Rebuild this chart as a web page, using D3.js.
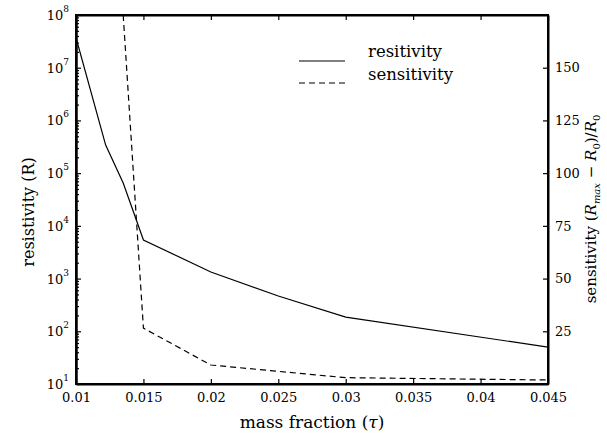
<!DOCTYPE html>
<html>
<head>
<meta charset="utf-8">
<script src="https://cdn.jsdelivr.net/npm/d3@7"></script>
<style>
  body { margin: 0; background: #fff; }
  svg text { font-family: "DejaVu Serif", serif !important; fill: #000; }
</style>
</head>
<body>
<script>
// data
let massFraction = [0.01, 0.0122, 0.0135, 0.015, 0.02, 0.025, 0.03, 0.045];
let resistivity = [3.7e7, 3.4e5, 6.5e4, 5400, 1330, 468, 186, 50];
let sensFraction = [0.0135, 0.015, 0.02, 0.025, 0.03, 0.045];
let sensitivity = [175, 26.5, 9, 6, 3, 1.9];

let xTicks = [0.01, 0.015, 0.02, 0.025, 0.03, 0.035, 0.04, 0.045];
let xTickLabels = ["0.01", "0.015", "0.02", "0.025", "0.03", "0.035", "0.04", "0.045"];
let logExponents = [1, 2, 3, 4, 5, 6, 7, 8];
let rightTicks = [25, 50, 75, 100, 125, 150];

//set up size and margin
let width = 607, height = 436;
let margin = { top: 15, right: 59, bottom: 52, left: 76 };
let plotW = width - margin.left - margin.right;
let plotH = height - margin.top - margin.bottom;

const svg = d3.select("body").append("svg")
  .attr("width", width)
  .attr("height", height);

const g = svg.append("g")
  .attr("transform", "translate(" + margin.left + "," + margin.top + ")");

//scales
let xScale = d3.scaleLinear().domain([0.01, 0.045]).range([0, plotW]);
let yLeft = d3.scaleLog().domain([10, 1e8]).range([plotH, 0]);
let yRight = d3.scaleLinear().domain([0, 175]).range([plotH, 0]);

//clip
svg.append("defs").append("clipPath").attr("id", "clip")
  .append("rect").attr("width", plotW).attr("height", plotH);

//axes
let xAxis = d3.axisBottom(xScale).tickValues(xTicks).tickSize(-5).tickSizeOuter(0)
  .tickPadding(9).tickFormat((d, i) => xTickLabels[i]);
g.append("g").attr("transform", "translate(0," + plotH + ")").call(xAxis);

let xTop = d3.axisTop(xScale).tickValues(xTicks).tickSize(-5).tickSizeOuter(0).tickFormat("");
g.append("g").call(xTop);

let majors = logExponents.map(e => Math.pow(10, e));
let yAxis = d3.axisLeft(yLeft).tickValues(majors).tickSize(-5).tickSizeOuter(0).tickFormat("");
g.append("g").call(yAxis);

let minors = [];
logExponents.slice(0, -1).forEach(e => {
  for (let k = 2; k <= 9; k++) minors.push(k * Math.pow(10, e));
});
let yMinor = d3.axisLeft(yLeft).tickValues(minors).tickSize(-3).tickSizeOuter(0).tickFormat("");
g.append("g").call(yMinor);

let yAxisR = d3.axisRight(yRight).tickValues(rightTicks).tickSize(-5).tickSizeOuter(0)
  .tickPadding(7);
g.append("g").attr("transform", "translate(" + plotW + ",0)").call(yAxisR);

g.selectAll(".domain").attr("stroke-width", 2);
g.selectAll(".tick line").attr("stroke-width", 1.2);
g.selectAll(".tick text").style("font-size", "13px");

//log tick labels with superscripts
let logLabels = g.append("g").selectAll("text")
  .data(logExponents).enter().append("text")
  .attr("x", -7)
  .attr("y", d => yLeft(Math.pow(10, d)) + 5)
  .attr("text-anchor", "end")
  .style("font-size", "13px");
logLabels.append("tspan").text("10");
logLabels.append("tspan").attr("dy", -8).style("font-size", "9px").text(d => d);

//box
g.append("rect").attr("width", plotW).attr("height", plotH)
  .attr("fill", "none").attr("stroke", "#000").attr("stroke-width", 2);

//lines
let resLine = d3.line().x(d => xScale(d[0])).y(d => yLeft(d[1]));
g.append("path")
  .datum(massFraction.map((m, i) => [m, resistivity[i]]))
  .attr("d", resLine)
  .attr("fill", "none").attr("stroke", "#000").attr("stroke-width", 1.2)
  .attr("clip-path", "url(#clip)");

let sensLine = d3.line().x(d => xScale(d[0])).y(d => yRight(d[1]));
g.append("path")
  .datum(sensFraction.map((m, i) => [m, sensitivity[i]]))
  .attr("d", sensLine)
  .attr("fill", "none").attr("stroke", "#000").attr("stroke-width", 1.2)
  .attr("stroke-dasharray", "6,4")
  .attr("clip-path", "url(#clip)");

//legend
let legend = svg.append("g");
legend.append("line").attr("x1", 299).attr("x2", 345).attr("y1", 61).attr("y2", 61)
  .attr("stroke", "#000").attr("stroke-width", 1.2);
legend.append("line").attr("x1", 299).attr("x2", 345).attr("y1", 83).attr("y2", 83)
  .attr("stroke", "#000").attr("stroke-width", 1.2).attr("stroke-dasharray", "6,4");
legend.append("text").attr("x", 368).attr("y", 57).style("font-size", "16.5px").text("resitivity");
legend.append("text").attr("x", 368).attr("y", 80).style("font-size", "16.5px").text("sensitivity");

//axis titles
svg.append("text")
  .attr("x", margin.left + plotW / 2).attr("y", 428)
  .attr("text-anchor", "middle").style("font-size", "17px")
  .html("mass fraction (<tspan font-style='italic'>τ</tspan>)");

svg.append("text")
  .attr("transform", "translate(34,212) rotate(-90)")
  .attr("text-anchor", "middle").style("font-size", "16px")
  .text("resistivity (R)");

let rt = svg.append("text")
  .attr("transform", "translate(596,209) rotate(-90)")
  .attr("text-anchor", "middle").style("font-size", "15px");
rt.append("tspan").text("sensitivity (");
rt.append("tspan").attr("font-style", "italic").text("R");
rt.append("tspan").attr("font-style", "italic").attr("dy", 4).style("font-size", "10px").text("max");
rt.append("tspan").attr("dy", -4).text(" − ");
rt.append("tspan").attr("font-style", "italic").text("R");
rt.append("tspan").attr("dy", 4).style("font-size", "10px").text("0");
rt.append("tspan").attr("dy", -4).text(")/");
rt.append("tspan").attr("font-style", "italic").text("R");
rt.append("tspan").attr("dy", 4).style("font-size", "10px").text("0");
</script>
</body>
</html>
